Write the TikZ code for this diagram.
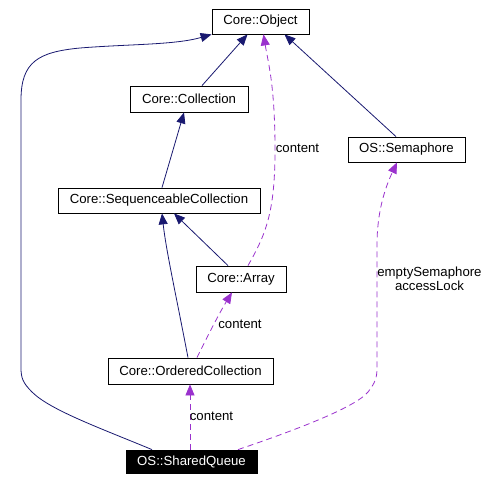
\documentclass[tikz,border=0pt]{standalone}
\usepackage{fontspec}
\setmainfont{Liberation Sans}
\usetikzlibrary{arrows.meta}
\definecolor{inhblue}{HTML}{191970}
\definecolor{usepurple}{HTML}{9A32CD}
\tikzstyle{classbox}=[draw=black,fill=white,line width=0.8pt,
                      inner sep=0pt,minimum height=25pt,
                      font=\fontsize{13.2}{14.5}\selectfont]
\tikzstyle{selfbox}=[classbox,draw=black,fill=black,text=white]
\tikzstyle{inherit}=[draw=inhblue,line width=0.8pt,
                     -{Triangle[length=11pt,width=9pt]}]
\tikzstyle{usage}=[draw=usepurple,line width=0.8pt,dash pattern=on 6pt off 4pt,
                   -{Triangle[length=11pt,width=9pt]}]
\tikzstyle{rolelabel}=[inner sep=0pt,align=center,
                       font=\fontsize{13.2}{14}\selectfont]

\begin{document}
\begin{tikzpicture}[x=1pt,y=-1pt]
    \useasboundingbox (0,0) rectangle (491,482);
    \node (obj)  at (260.5, 21.5) [classbox,minimum width=97pt]{Core::Object};
    \node (coll) at (189,   99)   [classbox,minimum width=118pt,minimum height=26pt]{Core::Collection};
    \node (sem)  at (406.5,149.5) [classbox,minimum width=117pt]{OS::Semaphore};
    \node (seq)  at (159,  200.5) [classbox,minimum width=202pt]{Core::SequenceableCollection};
    \node (arr)  at (241,  279)   [classbox,minimum width=90pt,minimum height=26pt]{Core::Array};
    \node (ord)  at (190.5,371)   [classbox,minimum width=165pt,minimum height=26pt]{Core::OrderedCollection};
    \node (sq)   at (191.5,461.5) [selfbox,minimum width=131pt,minimum height=23pt]{OS::SharedQueue};

    \draw[inherit] ([xshift=-39.5pt]sq.north)
        .. controls (100,428) and (50,410) .. (32,392)
        .. controls (23,383) and (21,378) .. (21,368)
        -- (21,100)
        .. controls (21,62) and (38,52) .. (80,48)
        .. controls (130,44) and (175,45) .. (obj.south west);
    \draw[inherit] ([xshift=13pt]coll.north) -- ([xshift=-13pt]obj.south);
    \draw[inherit] ([xshift=-10.5pt]sem.north) -- ([xshift=24pt]obj.south);
    \draw[inherit] ([xshift=3pt]seq.north) -- ([xshift=-5pt]coll.south);
    \draw[inherit] ([xshift=-13pt]arr.north) -- ([xshift=15pt]seq.south);
    \draw[inherit] ([xshift=-2.5pt]ord.north)
        .. controls (176,295) and (166,250) .. ([xshift=3pt]seq.south);

    \draw[usage] ([xshift=7pt]arr.north)
        .. controls (266,234) and (275,212) .. (275,150)
        .. controls (275,85) and (268,62) .. ([xshift=3pt]obj.south);
    \node (lblobj) at (297.5,148.5) [rolelabel]{content};
    \draw[usage] ([xshift=6.5pt]ord.north)
        .. controls (208,335) and (220,312) .. ([xshift=-9pt]arr.south);
    \node (lblarr) at (240,324) [rolelabel]{content};
    \draw[usage] ([xshift=-1.5pt]sq.north) -- ([xshift=-0.5pt]ord.south);
    \node (lblord) at (211.5,416) [rolelabel]{content};
    \draw[usage] ([xshift=46.5pt]sq.north)
        .. controls (290,432) and (355,408) .. (368,392)
        .. controls (375,383) and (377,378) .. (377,368)
        -- (377,245)
        .. controls (377,212) and (385,188) .. ([xshift=-9.5pt]sem.south);
    \node (lblsem) at (429.5,279) [rolelabel]{emptySemaphore\\accessLock};
\end{tikzpicture}
\end{document}
